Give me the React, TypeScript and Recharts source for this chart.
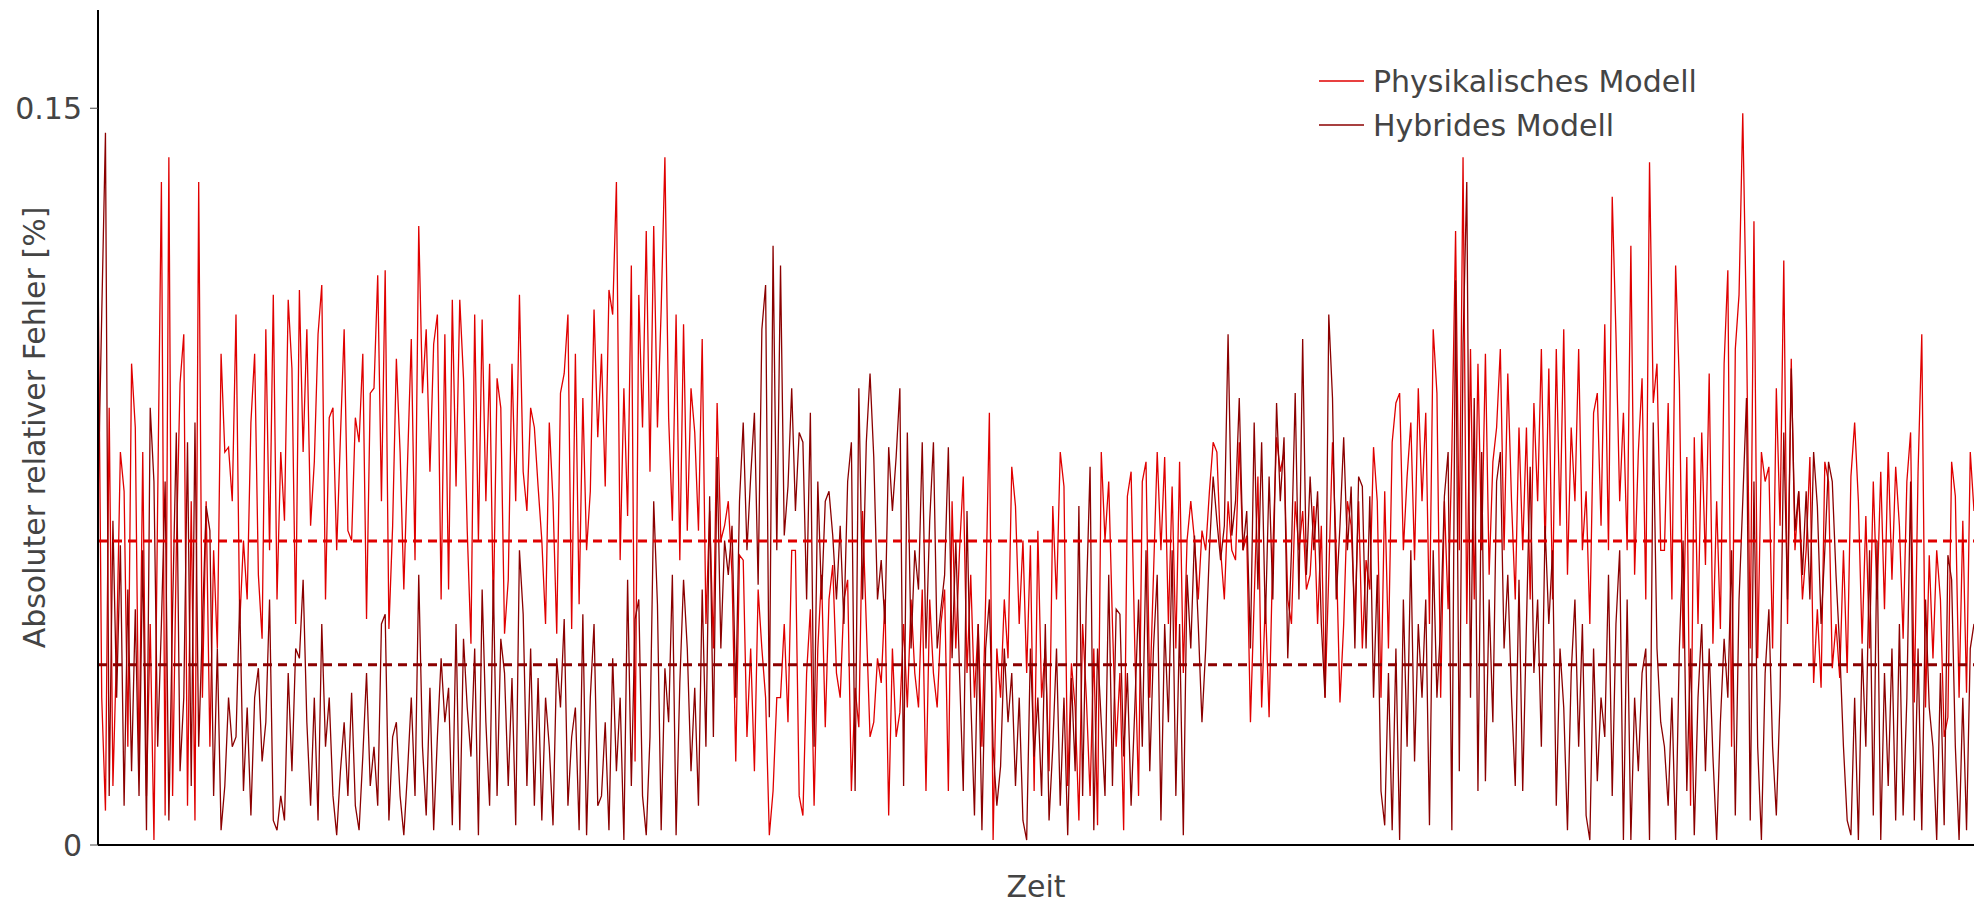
import React from 'react';
import { LineChart, Line, XAxis, YAxis, ReferenceLine, Legend, Label } from 'recharts';

// absolute relative error over time in six segments
const physSeg1 = [
  0.120, 0.030, 0.007, 0.089, 0.012, 0.040, 0.080, 0.072, 0.020, 0.098,
  0.085, 0.015, 0.080, 0.010, 0.045, 0.001, 0.070, 0.135, 0.006, 0.140,
  0.010, 0.060, 0.094, 0.104, 0.008, 0.070, 0.005, 0.135, 0.030, 0.070,
  0.020, 0.060, 0.040, 0.100, 0.080, 0.081, 0.070, 0.108, 0.045, 0.062,
  0.050, 0.086, 0.100, 0.055, 0.042, 0.105, 0.060, 0.112, 0.050, 0.080,
  0.066, 0.111, 0.097, 0.045, 0.113, 0.080, 0.105, 0.065, 0.078, 0.104,
  0.114, 0.050, 0.087, 0.089, 0.060, 0.083, 0.105, 0.064, 0.062, 0.087,
  0.082, 0.100, 0.046, 0.092, 0.093, 0.116, 0.070, 0.117, 0.044, 0.065,
  0.099, 0.080, 0.052, 0.078,
];
const physSeg2 = [
  0.103, 0.058, 0.126, 0.092, 0.105, 0.076, 0.102, 0.108, 0.050, 0.104,
  0.052, 0.111, 0.073, 0.111, 0.095, 0.064, 0.041, 0.108, 0.062, 0.107,
  0.070, 0.098, 0.047, 0.095, 0.089, 0.043, 0.054, 0.098, 0.070, 0.112,
  0.076, 0.068, 0.089, 0.085, 0.073, 0.062, 0.045, 0.086, 0.070, 0.043,
  0.092, 0.096, 0.108, 0.044, 0.100, 0.049, 0.091, 0.060, 0.072, 0.109,
  0.083, 0.100, 0.073, 0.113, 0.108, 0.135, 0.058, 0.093, 0.067, 0.118,
  0.017, 0.112, 0.085, 0.125, 0.076, 0.126, 0.085, 0.109, 0.140, 0.087,
  0.066, 0.108, 0.058, 0.106, 0.064, 0.093, 0.084, 0.064, 0.103, 0.045,
  0.068, 0.040, 0.090, 0.062,
];
const physSeg3 = [
  0.065, 0.070, 0.055, 0.017, 0.059, 0.058, 0.022, 0.040, 0.015, 0.052,
  0.040, 0.030, 0.002, 0.011, 0.030, 0.030, 0.045, 0.025, 0.060, 0.060,
  0.010, 0.006, 0.035, 0.048, 0.008, 0.040, 0.055, 0.024, 0.050, 0.057,
  0.035, 0.030, 0.050, 0.054, 0.011, 0.032, 0.024, 0.068, 0.045, 0.022,
  0.025, 0.038, 0.033, 0.050, 0.006, 0.040, 0.022, 0.027, 0.045, 0.028,
  0.050, 0.035, 0.028, 0.052, 0.011, 0.050, 0.035, 0.028, 0.045, 0.052,
  0.011, 0.070, 0.040, 0.060, 0.075, 0.035, 0.055, 0.030, 0.045, 0.020,
  0.050, 0.088, 0.001, 0.040, 0.030, 0.050, 0.038, 0.077, 0.069, 0.045,
  0.062, 0.035, 0.061, 0.011,
];
const physSeg4 = [
  0.064, 0.030, 0.040, 0.015, 0.069, 0.050, 0.080, 0.073, 0.012, 0.037,
  0.028, 0.005, 0.045, 0.030, 0.010, 0.040, 0.004, 0.080, 0.062, 0.074,
  0.045, 0.020, 0.035, 0.003, 0.071, 0.076, 0.040, 0.010, 0.074, 0.078,
  0.030, 0.055, 0.080, 0.060, 0.079, 0.045, 0.073, 0.040, 0.078, 0.035,
  0.062, 0.070, 0.062, 0.050, 0.064, 0.060, 0.072, 0.082, 0.080, 0.060,
  0.050, 0.070, 0.060, 0.058, 0.082, 0.060, 0.063, 0.025, 0.050, 0.075,
  0.028, 0.050, 0.026, 0.060, 0.083, 0.076, 0.080, 0.050, 0.045, 0.070,
  0.060, 0.068, 0.052, 0.055, 0.069, 0.045, 0.065, 0.030, 0.055, 0.082,
  0.060, 0.029, 0.045, 0.070,
];
const physSeg5 = [
  0.065, 0.046, 0.070, 0.040, 0.058, 0.052, 0.081, 0.070, 0.030, 0.072,
  0.040, 0.082, 0.090, 0.092, 0.060, 0.075, 0.086, 0.058, 0.093, 0.070,
  0.088, 0.045, 0.105, 0.092, 0.030, 0.070, 0.048, 0.080, 0.125, 0.060,
  0.140, 0.045, 0.101, 0.050, 0.098, 0.060, 0.100, 0.055, 0.078, 0.085,
  0.101, 0.060, 0.096, 0.070, 0.050, 0.085, 0.060, 0.085, 0.050, 0.090,
  0.070, 0.101, 0.060, 0.097, 0.050, 0.101, 0.065, 0.105, 0.055, 0.085,
  0.070, 0.101, 0.060, 0.072, 0.045, 0.088, 0.092, 0.065, 0.106, 0.060,
  0.132, 0.104, 0.070, 0.088, 0.060, 0.122, 0.055, 0.080, 0.095, 0.050,
  0.139, 0.090, 0.098, 0.060,
];
const physSeg6 = [
  0.060, 0.090, 0.050, 0.118, 0.094, 0.040, 0.079, 0.008, 0.083, 0.045,
  0.084, 0.057, 0.096, 0.041, 0.070, 0.044, 0.098, 0.117, 0.020, 0.101,
  0.112, 0.149, 0.105, 0.040, 0.127, 0.038, 0.080, 0.074, 0.077, 0.040,
  0.093, 0.065, 0.119, 0.045, 0.099, 0.060, 0.072, 0.050, 0.060, 0.079,
  0.033, 0.048, 0.032, 0.078, 0.074, 0.036, 0.045, 0.034, 0.060, 0.035,
  0.075, 0.086, 0.070, 0.041, 0.067, 0.040, 0.074, 0.050, 0.076, 0.048,
  0.080, 0.054, 0.077, 0.065, 0.042, 0.074, 0.084, 0.029, 0.076, 0.104,
  0.028, 0.059, 0.038, 0.060, 0.050, 0.022, 0.026, 0.078, 0.071, 0.030,
  0.066, 0.031, 0.080, 0.068,
];

const hybSeg1 = [
  0.070, 0.108, 0.145, 0.010, 0.066, 0.030, 0.061, 0.008, 0.052, 0.015,
  0.048, 0.010, 0.060, 0.003, 0.089, 0.074, 0.020, 0.045, 0.074, 0.005,
  0.048, 0.084, 0.015, 0.030, 0.082, 0.012, 0.086, 0.020, 0.045, 0.069,
  0.064, 0.010, 0.040, 0.003, 0.012, 0.030, 0.020, 0.022, 0.050, 0.011,
  0.028, 0.006, 0.030, 0.036, 0.017, 0.025, 0.050, 0.005, 0.003, 0.010,
  0.005, 0.035, 0.015, 0.040, 0.038, 0.054, 0.025, 0.008, 0.030, 0.005,
  0.045, 0.020, 0.030, 0.010, 0.002, 0.015, 0.025, 0.010, 0.031, 0.008,
  0.003, 0.018, 0.035, 0.012, 0.020, 0.008, 0.045, 0.047, 0.005, 0.022,
  0.025, 0.010, 0.002, 0.015,
];
const hybSeg2 = [
  0.030, 0.010, 0.055, 0.020, 0.006, 0.032, 0.003, 0.022, 0.038, 0.025,
  0.032, 0.004, 0.045, 0.003, 0.042, 0.028, 0.018, 0.040, 0.002, 0.052,
  0.025, 0.008, 0.054, 0.010, 0.042, 0.035, 0.012, 0.034, 0.004, 0.060,
  0.047, 0.012, 0.040, 0.008, 0.034, 0.005, 0.030, 0.020, 0.004, 0.038,
  0.028, 0.046, 0.008, 0.022, 0.028, 0.003, 0.047, 0.002, 0.030, 0.045,
  0.008, 0.010, 0.025, 0.003, 0.038, 0.015, 0.030, 0.001, 0.054, 0.012,
  0.046, 0.050, 0.010, 0.002, 0.022, 0.070, 0.049, 0.003, 0.036, 0.025,
  0.055, 0.002, 0.033, 0.054, 0.040, 0.015, 0.032, 0.008, 0.052, 0.020,
  0.071, 0.022, 0.079, 0.040,
];
const hybSeg3 = [
  0.062, 0.055, 0.065, 0.030, 0.070, 0.086, 0.060, 0.075, 0.088, 0.053,
  0.105, 0.114, 0.026, 0.122, 0.060, 0.118, 0.063, 0.073, 0.093, 0.068,
  0.084, 0.082, 0.050, 0.088, 0.020, 0.074, 0.050, 0.070, 0.072, 0.063,
  0.050, 0.065, 0.045, 0.074, 0.082, 0.011, 0.093, 0.050, 0.082, 0.096,
  0.079, 0.050, 0.058, 0.045, 0.081, 0.068, 0.079, 0.093, 0.012, 0.084,
  0.040, 0.060, 0.052, 0.082, 0.040, 0.066, 0.082, 0.040, 0.048, 0.055,
  0.081, 0.038, 0.062, 0.035, 0.011, 0.068, 0.030, 0.006, 0.045, 0.003,
  0.040, 0.050, 0.020, 0.008, 0.016, 0.040, 0.025, 0.035, 0.012, 0.030,
  0.005, 0.001, 0.040, 0.018,
];
const hybSeg4 = [
  0.030, 0.010, 0.045, 0.005, 0.020, 0.040, 0.008, 0.030, 0.002, 0.034,
  0.015, 0.069, 0.010, 0.050, 0.077, 0.003, 0.040, 0.025, 0.010, 0.055,
  0.012, 0.048, 0.047, 0.018, 0.035, 0.008, 0.028, 0.050, 0.020, 0.060,
  0.015, 0.040, 0.055, 0.005, 0.045, 0.025, 0.060, 0.010, 0.045, 0.002,
  0.055, 0.040, 0.063, 0.045, 0.025, 0.040, 0.060, 0.075, 0.066, 0.058,
  0.065, 0.104, 0.063, 0.070, 0.091, 0.060, 0.068, 0.040, 0.086, 0.052,
  0.082, 0.045, 0.075, 0.050, 0.090, 0.070, 0.083, 0.038, 0.060, 0.092,
  0.050, 0.103, 0.055, 0.075, 0.060, 0.072, 0.045, 0.030, 0.108, 0.091,
  0.050, 0.065, 0.083, 0.060,
];
const hybSeg5 = [
  0.073, 0.040, 0.075, 0.073, 0.040, 0.071, 0.030, 0.055, 0.011, 0.004,
  0.035, 0.003, 0.040, 0.001, 0.050, 0.020, 0.060, 0.017, 0.045, 0.030,
  0.050, 0.004, 0.060, 0.030, 0.045, 0.071, 0.080, 0.003, 0.115, 0.015,
  0.102, 0.135, 0.030, 0.091, 0.011, 0.080, 0.013, 0.050, 0.025, 0.074,
  0.080, 0.040, 0.055, 0.030, 0.012, 0.054, 0.011, 0.045, 0.077, 0.035,
  0.050, 0.020, 0.065, 0.045, 0.060, 0.008, 0.040, 0.028, 0.003, 0.035,
  0.050, 0.020, 0.045, 0.006, 0.001, 0.040, 0.013, 0.030, 0.022, 0.055,
  0.010, 0.045, 0.060, 0.001, 0.050, 0.001, 0.030, 0.015, 0.035, 0.040,
  0.001, 0.086, 0.040, 0.025,
];
const hybSeg6 = [
  0.020, 0.008, 0.030, 0.001, 0.040, 0.062, 0.011, 0.040, 0.002, 0.030,
  0.045, 0.015, 0.040, 0.018, 0.001, 0.025, 0.042, 0.030, 0.060, 0.006,
  0.050, 0.070, 0.091, 0.005, 0.074, 0.020, 0.001, 0.035, 0.048, 0.020,
  0.006, 0.030, 0.084, 0.050, 0.097, 0.064, 0.072, 0.055, 0.072, 0.050,
  0.080, 0.069, 0.045, 0.060, 0.078, 0.074, 0.055, 0.040, 0.020, 0.005,
  0.002, 0.030, 0.001, 0.040, 0.020, 0.060, 0.006, 0.062, 0.001, 0.035,
  0.012, 0.040, 0.005, 0.045, 0.006, 0.030, 0.074, 0.005, 0.040, 0.003,
  0.050, 0.028, 0.020, 0.001, 0.035, 0.004, 0.059, 0.054, 0.020, 0.001,
  0.030, 0.003, 0.040, 0.045,
];

const physical = [...physSeg1, ...physSeg2, ...physSeg3, ...physSeg4, ...physSeg5, ...physSeg6];
const hybrid = [...hybSeg1, ...hybSeg2, ...hybSeg3, ...hybSeg4, ...hybSeg5, ...hybSeg6];

// mean error lines (dashed)
const physMean = 0.0619;
const hybridMean = 0.0367;

const yTicks = [0, 0.15];
const seriesNames = ['Physikalisches Modell', 'Hybrides Modell'];

const data = physical.map((v, i) => ({ t: i, phys: v, hyb: hybrid[i] }));

const FONT = '"DejaVu Sans", Verdana, sans-serif';
const RED = '#e00000';
const DARK = '#8b0000';
const TEXT = '#444';

function LegendBox({ payload }: any) {
  const items = (payload ?? [])
    .filter((p: any) => seriesNames.includes(p.value))
    .sort((a: any, b: any) => seriesNames.indexOf(a.value) - seriesNames.indexOf(b.value));
  return (
    <svg width={440} height={100}>
      {items.map((p: any, i: number) => (
        <g key={p.value}>
          <line x1={0} x2={45} y1={23 + i * 44} y2={23 + i * 44} stroke={p.color} strokeWidth={1.3} />
          <text x={54} y={34 + i * 44} fontSize={30} fontFamily={FONT} fill={TEXT}>{p.value}</text>
        </g>
      ))}
    </svg>
  );
}

export default function App() {
  return (
    <div style={{ position: 'absolute', left: 0, top: 0, background: '#fff' }}>
      <LineChart width={1974} height={905} data={data} margin={{ top: 10, right: 0, bottom: 0, left: 0 }}>
        <XAxis
          type="number"
          dataKey="t"
          domain={[0, data.length - 1]}
          tick={false}
          tickLine={false}
          height={60}
          axisLine={{ stroke: '#000', strokeWidth: 2 }}
        >
          <Label
            content={(p: any) => {
              const vb = p.viewBox ?? { x: 98, width: 1876, y: 845 };
              return (
                <text x={vb.x + vb.width / 2} y={vb.y + 52} textAnchor="middle" fontSize={30} fontFamily={FONT} fill={TEXT}>
                  Zeit
                </text>
              );
            }}
          />
        </XAxis>
        <YAxis
          type="number"
          domain={[0, 0.17]}
          ticks={yTicks}
          interval={0}
          allowDataOverflow
          width={98}
          tickSize={8}
          tickMargin={8}
          tick={{ fill: TEXT, fontSize: 30, fontFamily: FONT }}
          tickLine={{ stroke: TEXT }}
          axisLine={{ stroke: '#000', strokeWidth: 2 }}
        >
          <Label
            content={(p: any) => {
              const vb = p.viewBox ?? { x: 0, y: 10, height: 835 };
              const cx = vb.x + 45;
              const cy = vb.y + vb.height / 2;
              return (
                <text x={cx} y={cy} textAnchor="middle" fontSize={30} fontFamily={FONT} fill={TEXT} transform={`rotate(-90, ${cx}, ${cy})`}>
                  Absoluter relativer Fehler [%]
                </text>
              );
            }}
          />
        </YAxis>
        <Legend
          layout="horizontal"
          verticalAlign="middle"
          align="center"
          wrapperStyle={{ left: 1319, top: 58, width: 440, height: 100 }}
          content={<LegendBox />}
        />
        <Line type="linear" dataKey="phys" name={seriesNames[0]} stroke={RED} strokeWidth={1.3} dot={false} activeDot={false} isAnimationActive={false} />
        <Line type="linear" dataKey="hyb" name={seriesNames[1]} stroke={DARK} strokeWidth={1.3} dot={false} activeDot={false} isAnimationActive={false} />
        <ReferenceLine y={physMean} stroke={RED} strokeWidth={3} strokeDasharray="9 6" />
        <ReferenceLine y={hybridMean} stroke={DARK} strokeWidth={3} strokeDasharray="9 6" />
      </LineChart>
    </div>
  );
}
